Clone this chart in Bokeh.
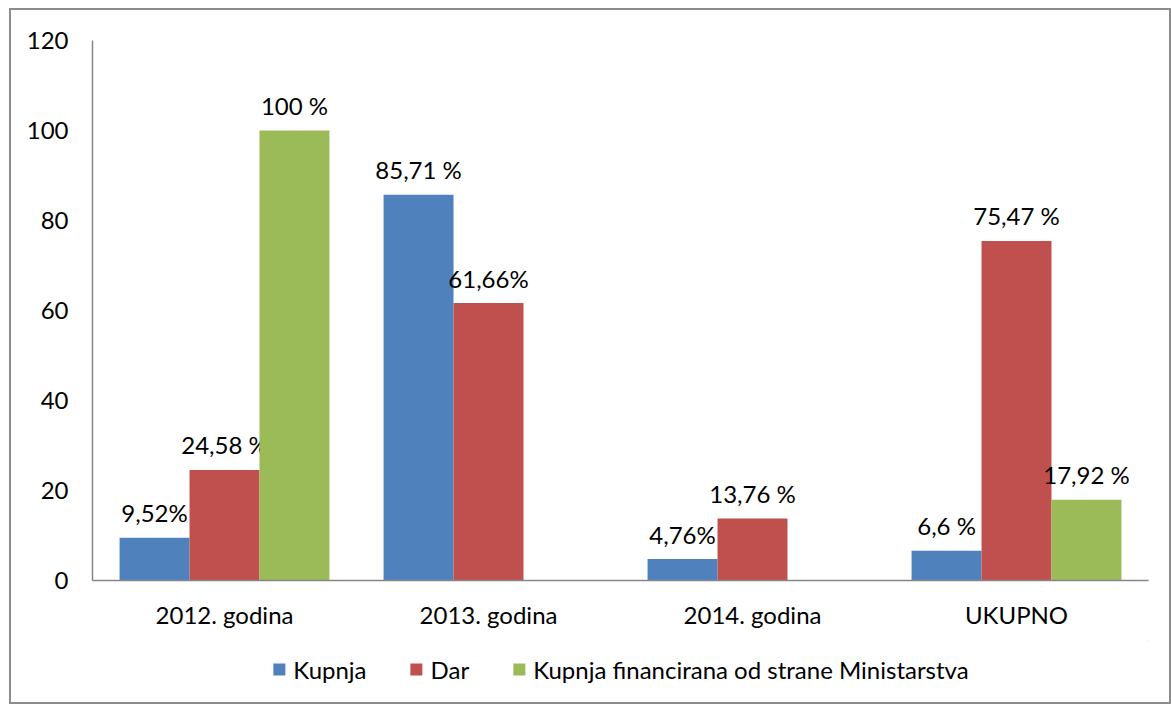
from bokeh.plotting import figure
from bokeh.layouts import column
from bokeh.models import FactorRange, ColumnDataSource, Legend, LegendItem, SingleIntervalTicker
from bokeh.transform import dodge
from bokeh.core.properties import value
from bokeh.embed import file_html
from bokeh.resources import INLINE
import math

categories = ["2012. godina", "2013. godina", "2014. godina", "UKUPNO"]
kupnja = [9.52, 85.71, 4.76, 6.6]
dar = [24.58, 61.66, 13.76, 75.47]
ministarstvo = [100.0, math.nan, math.nan, 17.92]
kupnja_labels = ["9,52%", "85,71 %", "4,76%", "6,6 %"]
dar_labels = ["24,58 %", "61,66%", "13,76 %", "75,47 %"]
ministarstvo_labels = ["100 %", "", "", "17,92 %"]
series_names = ["Kupnja", "Dar", "Kupnja financirana od strane Ministarstva"]
colors = ["#4F81BD", "#C0504D", "#9BBB59"]

FONT = "Lato"
FS = "24px"

src = ColumnDataSource(dict(
    cat=categories, kupnja=kupnja, dar=dar, min=ministarstvo,
    kl=kupnja_labels, dl=dar_labels, ml=ministarstvo_labels,
))

p = figure(x_range=FactorRange(*categories), y_range=(0, 120),
           width=1158, height=630, output_backend="svg", toolbar_location=None,
           min_border_left=81, min_border_right=21, min_border_top=30, min_border_bottom=60)
p.outline_line_color = None
p.grid.visible = False
p.x_range.range_padding = 0

bw = 0.265
offs = [-bw, 0.0, bw]
cols = ["kupnja", "dar", "min"]
lcols = ["kl", "dl", "ml"]
for off, c, lc, col in zip(offs, cols, lcols, colors):
    p.vbar(x=dodge("cat", off, range=p.x_range), top=c, width=bw, source=src,
           fill_color=col, line_color=None)
    p.text(x=dodge("cat", off, range=p.x_range), y=c, text=lc, source=src,
           text_align="center", text_baseline="middle", y_offset=-25,
           text_font=value(FONT), text_font_size=FS, text_color="#000000")

p.yaxis.ticker = SingleIntervalTicker(interval=20)
for ax in (p.xaxis, p.yaxis):
    ax.axis_line_color = "#868686"
    ax.axis_line_width = 1.5
    ax.major_tick_line_color = None
    ax.minor_tick_line_color = None
    ax.major_tick_out = 0
    ax.major_tick_in = 0
    ax.major_label_text_font = FONT
    ax.major_label_text_font_size = FS
    ax.major_label_text_color = "#000000"
p.yaxis.major_label_standoff = 20
p.xaxis.major_label_standoff = 19

# legend strip
p2 = figure(width=1158, height=62, x_range=(0, 1), y_range=(0, 1),
            output_backend="svg", toolbar_location=None,
            min_border_left=0, min_border_right=0, min_border_top=0, min_border_bottom=5)
p2.axis.visible = False
p2.grid.visible = False
p2.outline_line_color = None
leg_renderers = [p2.vbar(x=[5], top=[5], bottom=[4], width=0.1, fill_color=c, line_color=None)
                 for c in colors]
legend = Legend(items=[LegendItem(label=n, renderers=[r]) for n, r in zip(series_names, leg_renderers)],
                orientation="horizontal", location="center",
                label_text_font=FONT, label_text_font_size=FS, label_text_color="#000000",
                glyph_width=15, glyph_height=15, spacing=42, label_standoff=7,
                border_line_color=None, background_fill_alpha=0, margin=0, padding=0)
p2.add_layout(legend)

layout = column(p, p2, spacing=0,
                styles={"border": "2px solid #8c8c8c", "margin-left": "9px", "margin-top": "8px"})

open("out.html", "w").write(file_html(layout, INLINE))
